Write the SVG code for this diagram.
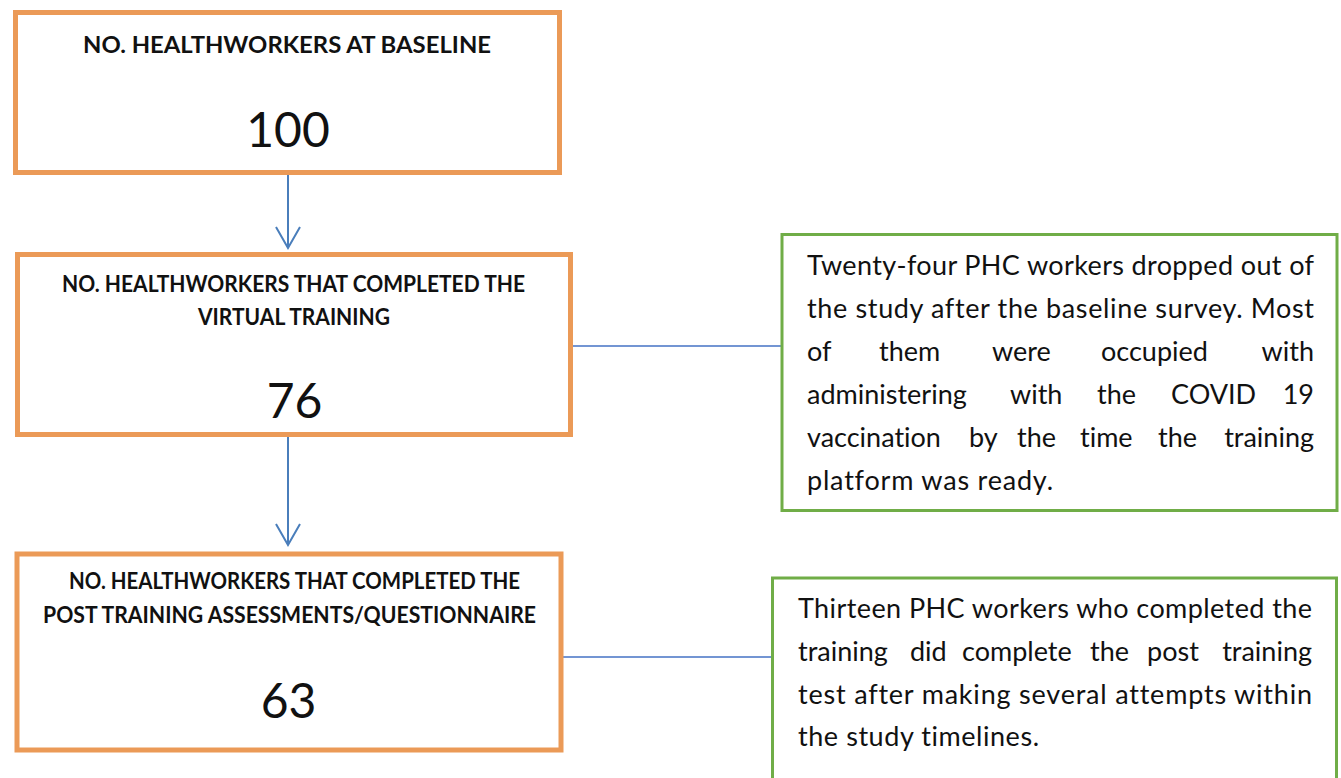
<svg xmlns="http://www.w3.org/2000/svg" width="1341" height="778" viewBox="0 0 1341 778">
<style>
.box{fill:#ffffff;stroke:#EB9A57;stroke-width:5}
.note{fill:#ffffff;stroke:#70AD47;stroke-width:3}
.hd{font-family:Lato,"Open Sans",sans-serif;font-weight:700;font-size:22px;fill:#111;text-anchor:middle}
.num{font-family:Lato,"Open Sans",sans-serif;font-size:48px;fill:#111;text-anchor:middle}
.tx{font-family:Lato,"Open Sans",sans-serif;font-size:27px;fill:#111;font-variant-ligatures:none}
.end{text-anchor:end}
.arrow{stroke:#4A7EBB;stroke-width:2;fill:none}
.link{stroke:#4472C4;stroke-width:1.6;fill:none}
</style>
<defs>
<marker id="vhead" markerUnits="userSpaceOnUse" markerWidth="26" markerHeight="30" viewBox="0 0 26 30" refX="23" refY="13" orient="auto">
<path d="M2,1 L23,13 L2,25" fill="none" stroke="#4A7EBB" stroke-width="2"/>
</marker>
</defs>
<rect width="1341" height="778" fill="#ffffff"/>

<g id="connectors">
<line class="arrow" x1="288" y1="175" x2="288" y2="248" marker-end="url(#vhead)"/>
<line class="arrow" x1="288" y1="437" x2="288" y2="545" marker-end="url(#vhead)"/>
<line class="link" x1="573" y1="346" x2="781" y2="346"/>
<line class="link" x1="563" y1="657" x2="771" y2="657"/>
</g>

<g id="baseline">
<rect class="box" x="15.5" y="12.5" width="544" height="160"/>
<text class="hd" x="287" y="53" textLength="408" lengthAdjust="spacingAndGlyphs">NO. HEALTHWORKERS AT BASELINE</text>
<text class="num" x="288" y="147">100</text>
</g>

<g id="virtual-training">
<rect class="box" x="17.5" y="254.5" width="553" height="180"/>
<text class="hd" x="293.5" y="292" textLength="463" lengthAdjust="spacingAndGlyphs">NO. HEALTHWORKERS THAT COMPLETED THE</text>
<text class="hd" x="294" y="325" textLength="192" lengthAdjust="spacingAndGlyphs">VIRTUAL TRAINING</text>
<text class="num" x="294.5" y="418">76</text>
</g>

<g id="post-training">
<rect class="box" x="17" y="554" width="544" height="196"/>
<text class="hd" x="294.5" y="589" textLength="451" lengthAdjust="spacingAndGlyphs">NO. HEALTHWORKERS THAT COMPLETED THE</text>
<text class="hd" x="289.5" y="623" textLength="493" lengthAdjust="spacingAndGlyphs">POST TRAINING ASSESSMENTS/QUESTIONNAIRE</text>
<text class="num" x="288.5" y="718">63</text>
</g>

<g id="dropout-note">
<rect class="note" x="782" y="234.5" width="555" height="276"/>
<text class="tx" x="807" y="275" textLength="507" lengthAdjust="spacing">Twenty-four PHC workers dropped out of</text>
<text class="tx" x="807" y="318" textLength="507" lengthAdjust="spacing">the study after the baseline survey. Most</text>
<text class="tx" y="361"><tspan x="807">of</tspan><tspan x="879">them</tspan><tspan x="992">were</tspan><tspan x="1101">occupied</tspan></text>
<text class="tx end" x="1314" y="361">with</text>
<text class="tx" y="404"><tspan x="807">administering</tspan><tspan x="1010">with</tspan><tspan x="1097">the</tspan><tspan x="1171">COVID</tspan></text>
<text class="tx end" x="1314" y="404">19</text>
<text class="tx" y="447"><tspan x="807">vaccination</tspan><tspan x="969">by</tspan><tspan x="1017">the</tspan><tspan x="1080">time</tspan><tspan x="1158">the</tspan></text>
<text class="tx end" x="1314" y="447">training</text>
<text class="tx" x="807" y="490" textLength="246" lengthAdjust="spacing">platform was ready.</text>
</g>

<g id="posttest-note">
<rect class="note" x="772.5" y="578" width="564" height="215"/>
<text class="tx" x="798" y="618" textLength="514" lengthAdjust="spacing">Thirteen PHC workers who completed the</text>
<text class="tx" y="661"><tspan x="798">training</tspan><tspan x="910">did</tspan><tspan x="962">complete</tspan><tspan x="1090">the</tspan><tspan x="1147">post</tspan></text>
<text class="tx end" x="1312" y="661">training</text>
<text class="tx" x="798" y="704" textLength="514" lengthAdjust="spacing">test after making several attempts within</text>
<text class="tx" x="798" y="746" textLength="241" lengthAdjust="spacing">the study timelines.</text>
</g>
</svg>
